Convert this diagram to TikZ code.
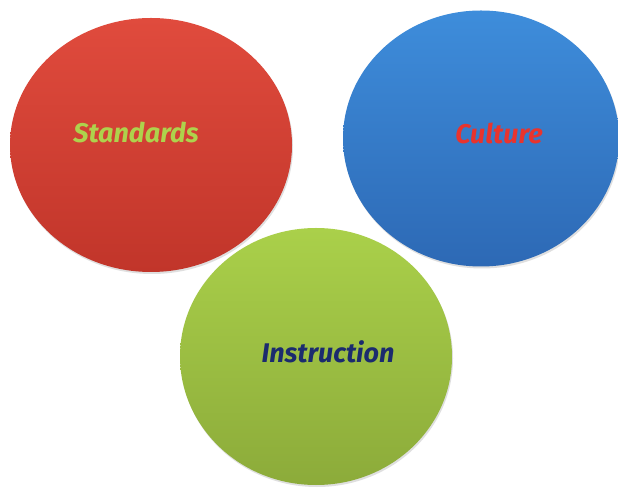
\documentclass[tikz,border=0pt]{standalone}
\usepackage{fontspec}
\setsansfont{Fira Sans}
\usepackage{tikz}
\usetikzlibrary{shapes.geometric, calc, shadows}

\definecolor{redtop}{HTML}{E04B3D}
\definecolor{redbot}{HTML}{C1352A}
\definecolor{bluetop}{HTML}{3E8DDB}
\definecolor{bluebot}{HTML}{2D69B5}
\definecolor{greentop}{HTML}{AAD04A}
\definecolor{greenbot}{HTML}{8CAB3A}
\definecolor{lightgreen}{HTML}{AED24C}
\definecolor{culturered}{HTML}{E8342E}
\definecolor{navy}{HTML}{1B2B6E}

\tikzset{
  disc/.style={ellipse, inner sep=0pt, draw=none,
    drop shadow={shadow xshift=1pt, shadow yshift=-2pt, opacity=0.25}},
  lbl/.style={font=\sffamily\itshape\bfseries\fontsize{27}{29}\selectfont}
}

\begin{document}
\begin{tikzpicture}[x=1pt, y=1pt]
      \useasboundingbox (0,0) rectangle (618,487);
      \fill[white] (0,0) rectangle (618,487);
      \node[disc, minimum width=282pt, minimum height=254pt, top color=redtop, bottom color=redbot] (standards) at (151,342) {};
      \node[disc, minimum width=276pt, minimum height=256pt, top color=bluetop, bottom color=bluebot] (culture) at (481,348.5) {};
      \node[disc, minimum width=272pt, minimum height=257pt, top color=greentop, bottom color=greenbot] (instruction) at (316,130.5) {};
      \node[lbl, text=lightgreen] (standardstxt) at ($(standards.center)+(-15,12)$) {Standards};
      \node[lbl, text=culturered] (culturetxt) at ($(culture.center)+(18,5.5)$) {Culture};
      \node[lbl, text=navy] (instructiontxt) at ($(instruction.center)+(12,4.5)$) {Instruction};
    \end{tikzpicture}
\end{document}
